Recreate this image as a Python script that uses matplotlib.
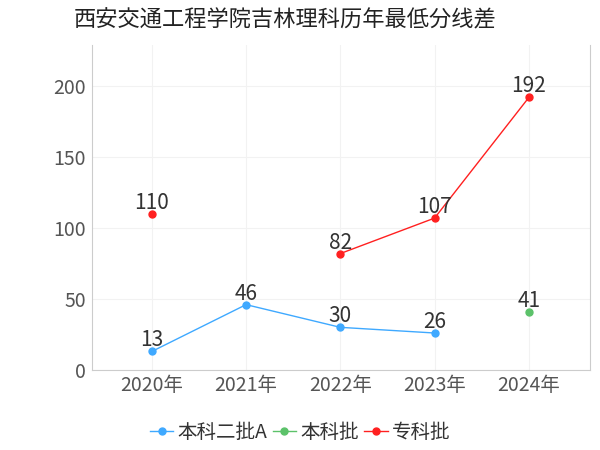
import matplotlib
matplotlib.use("Agg")
import matplotlib.pyplot as plt
import numpy as np

plt.rcParams["font.family"] = "sans-serif"
plt.rcParams["font.sans-serif"] = ["Noto Sans CJK SC", "Noto Sans CJK JP", "Noto Sans CJK TC", "Noto Sans CJK KR", "DejaVu Sans"]

years = ["2020年", "2021年", "2022年", "2023年", "2024年"]
s1_name = "本科二批A"
s1 = [13, 46, 30, 26, None]
s2_name = "本科批"
s2 = [None, None, None, None, 41]
s3_name = "专科批"
s3 = [110, None, 82, 107, 192]

colors = ["#3fa9ff", "#5cc26a", "#ff2020"]

fig = plt.figure(figsize=(6, 4.5), dpi=100)
ax = fig.add_axes([0.153, 0.178, 0.83, 0.722])
x = np.arange(len(years))
for name, vals, c in [(s1_name, s1, colors[0]), (s2_name, s2, colors[1]), (s3_name, s3, colors[2])]:
    y = np.array([np.nan if v is None else v for v in vals], dtype=float)
    ax.plot(x, y, color=c, lw=1, marker="o", ms=5, label=name)
    for xi, v in zip(x, vals):
        if v is not None:
            ax.annotate(str(v), (xi, v), xytext=(0, 0), textcoords="offset points",
                        ha="center", va="bottom", fontsize=15, color="#333333")

ax.set_xlim(-0.637, 4.647)
ax.set_ylim(0, 229)
ax.set_yticks([0, 50, 100, 150, 200])
ax.set_xticks(x)
ax.set_xticklabels(years)
ax.tick_params(labelsize=14, colors="#555555", length=0, pad=4)
ax.grid(axis="both", color="#f2f2f2", lw=0.8)
ax.set_axisbelow(True)
ax.spines["top"].set_visible(False)
for s in ["left", "bottom", "right"]:
    ax.spines[s].set_color("#cccccc")
fig.text(0.122, 0.955, "西安交通工程学院吉林理科历年最低分线差", fontsize=16, color="#222222", va="center")
fig.legend(loc="center", bbox_to_anchor=(0.5, 0.04), ncol=3, frameon=False, fontsize=14,
           handlelength=1.2, handletextpad=0.2, columnspacing=0.3, labelcolor="#333333")
fig.savefig("out.png")
